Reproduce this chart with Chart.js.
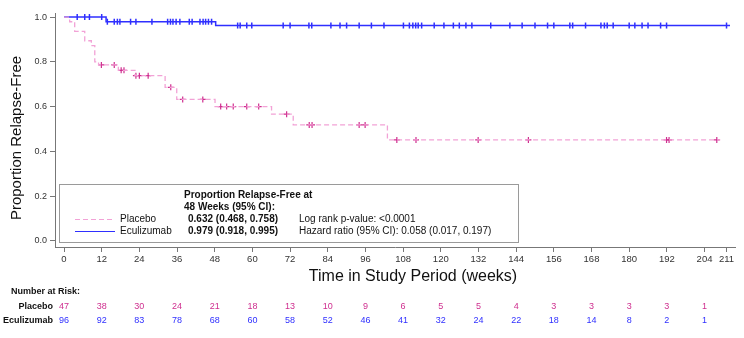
<!DOCTYPE html>
<html>
<head>
<meta charset="utf-8">
<script src="https://cdn.jsdelivr.net/npm/chart.js@4/dist/chart.umd.min.js"></script>
<style>
  html, body { margin: 0; padding: 0; background: #fff; }
  #wrap { width: 744px; height: 338px; }
</style>
</head>
<body>
<div id="wrap"><canvas id="km"></canvas></div>
<script>
  // Kaplan-Meier steps (weeks, proportion after the step)
  const placeboTimes = [0, 1.8, 3.4, 6.6, 8.7, 9.8, 11, 17.3, 22.6, 32.2, 35.9, 48.1, 66.1, 73, 103, 209];
  const placeboSurv  = [1, 0.979, 0.936, 0.894, 0.872, 0.80, 0.786, 0.762, 0.738, 0.686, 0.632, 0.600, 0.566, 0.518, 0.451, 0.451];
  const placeboCensor = [11.9, 16, 18.2, 19.1, 22.9, 24, 26.8, 34, 37.8, 44.2, 49.9, 51.8, 53.9, 58.2, 62, 70.9,
    78.1, 79, 94, 95.9, 106, 112.1, 131.9, 147.9, 191.9, 192.7, 207.9];

  const ecuTimes = [0, 13.4, 48.3, 212.1];
  const ecuSurv  = [1, 0.979, 0.962, 0.962];
  const ecuCensor = [4.2, 6.6, 8.1, 12.0, 13.8, 16.0, 17.0, 17.8, 21.2, 22.9, 28.0, 33.0, 33.9, 34.7, 35.7, 36.9,
    39.9, 40.8, 43.3, 44.3, 45.1, 46.0, 47.0, 55.3, 56.1, 58.2, 59.8, 69.8, 72.0, 78.0, 78.9, 85.0, 87.9, 90.0,
    94.0, 97.9, 101.9, 108.1, 110.0, 111.1, 112.0, 112.8, 113.9, 117.9, 121.0, 124.0, 125.9, 128.0, 129.9, 135.9,
    142.0, 145.9, 150.0, 154.0, 156.0, 161.1, 162.0, 166.1, 171.0, 172.1, 173.0, 174.9, 180.0, 181.8, 184.1,
    186.0, 190.0, 191.9, 211.0];

  const xTicks = [0, 12, 24, 36, 48, 60, 72, 84, 96, 108, 120, 132, 144, 156, 168, 180, 192, 204, 211];
  const yTicks = [0, 0.2, 0.4, 0.6, 0.8, 1.0];
  const riskTimes = [0, 12, 24, 36, 48, 60, 72, 84, 96, 108, 120, 132, 144, 156, 168, 180, 192, 204];
  const riskPlacebo = [47, 38, 30, 24, 21, 18, 13, 10, 9, 6, 5, 5, 4, 3, 3, 3, 3, 1];
  const riskEcu = [96, 92, 83, 78, 68, 60, 58, 52, 46, 41, 32, 24, 22, 18, 14, 8, 2, 1];

  const PINK_LINE = '#f2a2d6';
  const PINK_MARK = '#cf2f8f';
  const BLUE = '#2f2fff';
  const FONT = '"Liberation Sans", Arial, sans-serif';

  // value of the step curve at time t
  function survAt(times, surv, t) {
    let s = surv[0];
    for (let i = 0; i < times.length; i++) {
      if (times[i] <= t) s = surv[i];
    }
    return s;
  }

  const toPoints = (times, surv) => times.map((t, i) => ({ x: t, y: surv[i] }));
  const toCensor = (cens, times, surv) => cens.map(t => ({ x: t, y: survAt(times, surv, t) }));

  const extras = {
    id: 'extras',
    afterDraw(chart) {
      const ctx = chart.ctx;
      const xs = chart.scales.x;
      ctx.save();
      ctx.fillStyle = '#111';

      // y axis title
      ctx.save();
      ctx.translate(17, 138);
      ctx.rotate(-Math.PI / 2);
      ctx.font = '15px ' + FONT;
      ctx.textAlign = 'center';
      ctx.textBaseline = 'middle';
      ctx.fillText('Proportion Relapse-Free', 0, 0);
      ctx.restore();

      // x axis title
      ctx.font = '16px ' + FONT;
      ctx.textAlign = 'center';
      ctx.textBaseline = 'middle';
      ctx.fillText('Time in Study Period (weeks)', 413, 277);

      // inset box
      ctx.strokeStyle = '#9a9a9a';
      ctx.lineWidth = 1;
      ctx.fillStyle = '#fff';
      ctx.fillRect(59.5, 184.5, 459, 58);
      ctx.strokeRect(59.5, 184.5, 459, 58);

      ctx.fillStyle = '#111';
      ctx.textAlign = 'left';
      ctx.font = 'bold 10px ' + FONT;
      ctx.fillText('Proportion Relapse-Free at', 184, 195);
      ctx.fillText('48 Weeks (95% CI):', 184, 207);
      ctx.fillText('0.632 (0.468, 0.758)', 188, 219.5);
      ctx.fillText('0.979 (0.918, 0.995)', 188, 231.5);
      ctx.font = '10px ' + FONT;
      ctx.fillText('Placebo', 120, 219.5);
      ctx.fillText('Eculizumab', 120, 231.5);
      ctx.fillText('Log rank p-value: <0.0001', 299, 219.5);
      ctx.fillText('Hazard ratio (95% CI): 0.058 (0.017, 0.197)', 299, 231.5);

      ctx.lineWidth = 1.2;
      ctx.strokeStyle = PINK_LINE;
      ctx.setLineDash([5, 3]);
      ctx.beginPath(); ctx.moveTo(75, 219.5); ctx.lineTo(115, 219.5); ctx.stroke();
      ctx.setLineDash([]);
      ctx.strokeStyle = BLUE;
      ctx.beginPath(); ctx.moveTo(75, 231.5); ctx.lineTo(115, 231.5); ctx.stroke();

      // number at risk table
      ctx.fillStyle = '#111';
      ctx.font = 'bold 9px ' + FONT;
      ctx.textAlign = 'left';
      ctx.fillText('Number at Risk:', 11, 292);
      ctx.textAlign = 'right';
      ctx.fillText('Placebo', 53, 306.5);
      ctx.fillText('Eculizumab', 53, 321);
      ctx.font = '9px ' + FONT;
      ctx.textAlign = 'center';
      riskTimes.forEach((t, i) => {
        const px = xs.getPixelForValue(t);
        ctx.fillStyle = PINK_MARK;
        ctx.fillText(String(riskPlacebo[i]), px, 306.5);
        ctx.fillStyle = BLUE;
        ctx.fillText(String(riskEcu[i]), px, 321);
      });
      ctx.restore();
    }
  };

  new Chart(document.getElementById('km'), {
    type: 'line',
    data: {
      datasets: [
        {
          label: 'Placebo',
          data: toPoints(placeboTimes, placeboSurv),
          stepped: true,
          borderColor: PINK_LINE,
          borderWidth: 1.3,
          borderDash: [5, 3],
          pointRadius: 0,
          fill: false
        },
        {
          label: 'Eculizumab',
          data: toPoints(ecuTimes, ecuSurv),
          stepped: true,
          borderColor: BLUE,
          borderWidth: 1.5,
          pointRadius: 0,
          fill: false
        },
        {
          type: 'scatter',
          label: 'Placebo censored',
          data: toCensor(placeboCensor, placeboTimes, placeboSurv),
          pointStyle: 'cross',
          pointRadius: 3,
          borderColor: PINK_MARK,
          borderWidth: 1.2,
          showLine: false
        },
        {
          type: 'scatter',
          label: 'Eculizumab censored',
          data: toCensor(ecuCensor, ecuTimes, ecuSurv),
          pointStyle: 'line',
          rotation: 90,
          pointRadius: 3,
          borderColor: BLUE,
          borderWidth: 1.5,
          showLine: false
        }
      ]
    },
    options: {
      responsive: true,
      maintainAspectRatio: false,
      animation: false,
      devicePixelRatio: 1,
      layout: { padding: { top: 13, right: 9, left: 0, bottom: 0 } },
      plugins: {
        legend: { display: false },
        tooltip: { enabled: false }
      },
      scales: {
        x: {
          type: 'linear',
          min: -2.87,
          max: 213.7,
          afterBuildTicks: s => { s.ticks = xTicks.map(v => ({ value: v })); },
          afterFit: s => { s.height = 91; },
          ticks: {
            autoSkip: false,
            maxRotation: 0,
            padding: 2,
            color: '#333',
            font: { family: FONT, size: 9.5 },
            callback: v => String(v)
          },
          grid: { drawOnChartArea: false, tickLength: 5, color: '#777' },
          border: { color: '#777' }
        },
        y: {
          min: -0.027,
          max: 1.018,
          afterBuildTicks: s => { s.ticks = yTicks.map(v => ({ value: v })); },
          afterFit: s => { s.width = 55; },
          ticks: {
            padding: 3,
            color: '#333',
            font: { family: FONT, size: 9 },
            callback: v => v.toFixed(1)
          },
          grid: { drawOnChartArea: false, tickLength: 5, color: '#777' },
          border: { color: '#777' }
        }
      }
    },
    plugins: [extras]
  });
</script>
</body>
</html>
